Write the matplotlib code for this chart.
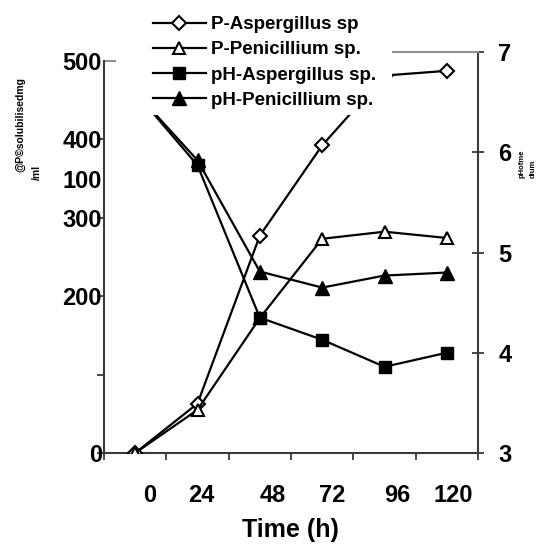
import matplotlib
matplotlib.use('Agg')
import matplotlib.pyplot as plt
from matplotlib.patches import Rectangle
from matplotlib.lines import Line2D

# ---- data ----
times = ['0', '24', '48', '72', '96', '120']
p_aspergillus = [0, 63, 277, 392, 481, 487]
p_penicillium = [0, 55, 172, 273, 282, 274]
ph_aspergillus = [6.6, 5.87, 4.35, 4.13, 3.86, 4.0]
ph_penicillium = [6.6, 5.92, 4.81, 4.65, 4.77, 4.80]
left_ticks = [0, 100, 200, 300, 400, 500]
left_tick_labels = ['0', '', '200', '300', '400', '500']
right_ticks = [3, 4, 5, 6, 7]
right_tick_labels = ['3', '4', '5', '6', '7']
series_labels = ['P-Aspergillus sp', 'P-Penicillium sp.', 'pH-Aspergillus sp.', 'pH-Penicillium sp.']

# ---- layout ----
label_shift = [0.24, 0.06, 0.2, 0.16, 0.2, 0.1]

plt.rcParams['font.family'] = ['Liberation Sans', 'DejaVu Sans']
plt.rcParams['font.weight'] = 'bold'

W, H = 539, 552
fig = plt.figure(figsize=(W / 100, H / 100), dpi=100)
ax = fig.add_axes([104 / W, 1 - 453 / H, 374 / W, 401 / H])
ax2 = ax.twinx()

x = list(range(len(times)))
lw = 1.6
k = 'black'
ax.plot(x, p_aspergillus, color=k, lw=lw, marker='D', ms=7, mfc='white', mec=k, mew=1.5, zorder=3)
ax.plot(x, p_penicillium, color=k, lw=lw, marker='^', ms=9, mfc='white', mec=k, mew=1.5, zorder=3)
ax2.plot(x, ph_aspergillus, color=k, lw=lw, marker='s', ms=8.5, mfc=k, mec=k, zorder=3)
ax2.plot(x, ph_penicillium, color=k, lw=lw, marker='^', ms=9.5, mfc=k, mec=k, zorder=3)

ax.set_xlim(-0.5, len(times) - 0.5)
ax.set_ylim(0, 511)
ax2.set_ylim(3, 7)

spc = '#3a3a3a'
for a in (ax, ax2):
    for s in a.spines.values():
        s.set_linewidth(1.5)
        s.set_color(spc)
ax.spines['top'].set_visible(False)
ax.spines['right'].set_visible(False)
ax2.spines['left'].set_visible(False)
ax2.spines['bottom'].set_visible(False)
ax.spines['left'].set_bounds(0, 500)
ax2.spines['top'].set_color('#909090')
ax2.spines['top'].set_bounds(4.12, len(times) - 0.5)

# x axis: ticks at category boundaries, labels via minor ticks
ax.set_xticks([i - 0.5 for i in range(len(times) + 1)])
ax.set_xticklabels([])
ax.set_xticks([i + s for i, s in enumerate(label_shift)], minor=True)
ax.set_xticklabels(times, minor=True)
ax.tick_params(axis='x', which='major', direction='out', length=5, width=1.3, color=spc)
ax.tick_params(axis='x', which='minor', length=0, pad=22, labelsize=17)

ax.set_yticks(left_ticks)
ax.set_yticklabels(left_tick_labels)
ax.tick_params(axis='y', direction='out', length=5, width=1.3, color=spc, pad=-3.5, labelsize=17)
ax.yaxis.get_major_ticks()[-1].tick1line.set_visible(False)
ax.axhline(500, xmin=0, xmax=0.03, color='#909090', lw=1.5, zorder=2)

ax2.set_yticks(right_ticks)
ax2.set_yticklabels(right_tick_labels)
ax2.tick_params(axis='y', direction='inout', length=9, width=1.3, color=spc, pad=10, labelsize=17)

# extra stray label
fig.text(102 / W, 1 - 182 / H, '100', ha='right', va='center', fontsize=17, fontweight='bold')

# axis titles
fig.text(290 / W, 1 - 530 / H, 'Time (h)', ha='center', va='center', fontsize=18, fontweight='bold')
fig.text(20 / W, 1 - 124 / H, '@P©solubilisedmg', rotation=90, ha='center', va='center', fontsize=7.5, fontweight='bold')
fig.text(37 / W, 1 - 172 / H, '/ml', rotation=90, ha='center', va='center', fontsize=7.5, fontweight='bold')
fig.text(522 / W, 1 - 178 / H, 'pHofme', rotation=90, ha='center', va='bottom', fontsize=5.5, fontweight='bold')
fig.text(533 / W, 1 - 178 / H, 'dium', rotation=90, ha='center', va='bottom', fontsize=5.5, fontweight='bold')

# white box covering the top of the plot (legend area)
fig.add_artist(Rectangle((128 / W, 1 - 115 / H), 264 / W, 115 / H, transform=fig.transFigure,
                         facecolor='white', edgecolor='none', zorder=5))

handles = [
    Line2D([], [], color=k, lw=lw, marker='D', ms=7, mfc='white', mec=k, mew=1.5),
    Line2D([], [], color=k, lw=lw, marker='^', ms=9, mfc='white', mec=k, mew=1.5),
    Line2D([], [], color=k, lw=lw, marker='s', ms=8.5, mfc=k, mec=k),
    Line2D([], [], color=k, lw=lw, marker='^', ms=9.5, mfc=k, mec=k),
]
leg = fig.legend(handles, series_labels, loc='upper left', bbox_to_anchor=(153 / W, 1 - 16 / H),
                 frameon=False, handlelength=2.8, handletextpad=0.27,
                 labelspacing=0.43, borderpad=0, borderaxespad=0, prop={'weight': 'bold', 'size': 13.5})
leg.set_zorder(6)

fig.savefig('out.png', dpi=100)
